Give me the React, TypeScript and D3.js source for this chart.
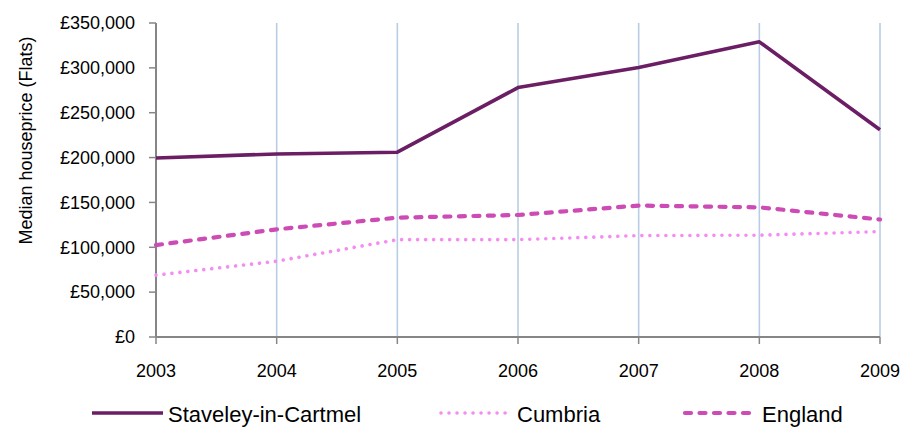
import React from "react";
import * as d3 from "d3";

const years = [2003, 2004, 2005, 2006, 2007, 2008, 2009];
const staveley = [199500, 204000, 206000, 278000, 300500, 329000, 231000];
const cumbria = [69000, 84500, 108500, 108500, 113000, 113500, 117500];
const england = [102500, 120000, 133000, 136000, 146500, 144500, 131000];
const yTicks = [0, 50000, 100000, 150000, 200000, 250000, 300000, 350000];

const W = 917, H = 428;
const M = { left: 156, right: 880, top: 23, bottom: 337 };
const FONT = "'Liberation Sans', Arial, sans-serif";

export default function App() {
  const x = d3.scaleLinear().domain([2003, 2009]).range([M.left, M.right]);
  const y = d3.scaleLinear().domain([0, 350000]).range([M.bottom, M.top]);
  const line = (vals: number[]) =>
    d3.line<number>().x((_, i) => x(years[i])).y((v) => y(v))(vals) || "";
  const fmt = (v: number) => "£" + d3.format(",")(v);

  const series = [
    { name: "Staveley-in-Cartmel", vals: staveley, color: "#6B1E64", width: 3.6, dash: undefined as string | undefined, cap: "butt", lx: 92, lx2: 163, tx: 168 },
    { name: "Cumbria", vals: cumbria, color: "#F48CF2", width: 3.6, dash: "0.01 8", cap: "round", lx: 441, lx2: 511, tx: 517 },
    { name: "England", vals: england, color: "#CC4BB4", width: 4.2, dash: "6 8.5", cap: "round", lx: 685, lx2: 755, tx: 762 },
  ];

  return (
    <svg width={W} height={H} style={{ position: "absolute", left: 0, top: 0, background: "#fff" }} fontFamily={FONT}>
      {years.slice(1).map((yr) => (
        <line key={yr} x1={x(yr)} x2={x(yr)} y1={M.top} y2={M.bottom} stroke="#B9CDE5" strokeWidth={1.6} />
      ))}
      {/* y axis */}
      <line x1={M.left} x2={M.left} y1={M.top} y2={M.bottom} stroke="#868686" strokeWidth={2} />
      {yTicks.map((t) => (
        <g key={t}>
          <line x1={M.left - 7} x2={M.left} y1={y(t)} y2={y(t)} stroke="#868686" strokeWidth={1.5} />
          <text x={135} y={y(t)} dy="0.35em" textAnchor="end" fontSize={18} fill="#000">{fmt(t)}</text>
        </g>
      ))}
      {/* x axis */}
      <line x1={M.left} x2={M.right} y1={M.bottom} y2={M.bottom} stroke="#868686" strokeWidth={2} />
      {years.map((yr) => (
        <g key={yr}>
          <line x1={x(yr)} x2={x(yr)} y1={M.bottom} y2={M.bottom + 7} stroke="#868686" strokeWidth={1.5} />
          <text x={x(yr)} y={376.5} textAnchor="middle" fontSize={18} fill="#000">{yr}</text>
        </g>
      ))}
      <text transform="translate(26,140.5) rotate(-90)" dy="0.35em" textAnchor="middle" fontSize={18} fill="#000">Median houseprice (Flats)</text>
      {series.slice().reverse().map((s) => (
        <path key={s.name} d={line(s.vals)} fill="none" stroke={s.color} strokeWidth={s.width} strokeDasharray={s.dash} strokeLinecap={s.cap as any} strokeLinejoin="round" />
      ))}
      {series.map((s) => (
        <g key={s.name}>
          <line x1={s.lx} x2={s.lx2} y1={413} y2={413} stroke={s.color} strokeWidth={s.width} strokeDasharray={s.dash} strokeLinecap={s.cap as any} />
          <text x={s.tx} y={422} fontSize={22} fill="#000">{s.name}</text>
        </g>
      ))}
    </svg>
  );
}
